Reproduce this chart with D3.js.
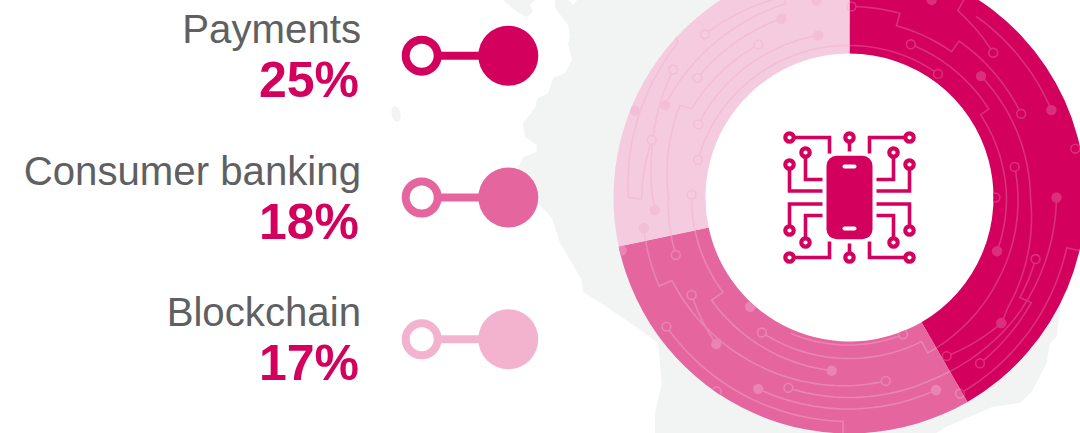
<!DOCTYPE html>
<html>
<head>
<meta charset="utf-8">
<title>Fintech investment share</title>
<script src="https://cdn.jsdelivr.net/npm/d3@7/dist/d3.min.js"></script>
<style>
  html, body { margin: 0; padding: 0; background: #fff; }
  svg { display: block; overflow: hidden; }
  text { font-family: "Liberation Sans", Arial, sans-serif; }
</style>
</head>
<body>
<script>
// Chart content
const categories = ["Payments", "Consumer banking", "Blockchain"];
const shares = [25, 18, 17];
const legendColors = ["#d3005e", "#e5669e", "#f3b3cf"];
const sliceColors = ["#d3005e", "#e5669e", "#f5cbdf"];
const traceColors = ["#db2f7c", "#ea84b2", "#f3bed7"];

// Circuit decoration on the ring: [clockwise degrees from top, radius] per vertex,
// with the terminal drawn at each end ("o" open pad, "d" solid pad, "" none).
const ringTraces = [
  { s: "o", e: "o", p: [[0.6, 191], [15.3, 191], [15.3, 178], [35, 178], [35, 191], [64, 191]] },
  { s: "o", e: "", p: [[44.8, 204], [30.1, 216], [30, 238]] },
  { s: "", e: "d", p: [[35, 221], [66.6, 220]] },
  { s: "o", e: "d", p: [[21.8, 165], [57.6, 165], [57.7, 155], [90, 157], [110, 157]] },
  { s: "o", e: "o", p: [[284, 156], [330, 153], [360, 152], [395.6, 152]] },
  { s: "d", e: "d", p: [[47.3, 179], [90, 181], [125, 193], [129.6, 197]] },
  { s: "d", e: "o", p: [[129.6, 197], [148.5, 186]] },
  { s: "o", e: "o", p: [[79.5, 168], [120, 170], [153.3, 174], [153.4, 161], [213, 161]] },
  { s: "o", e: "o", p: [[108.3, 196], [120.4, 197.6], [120, 210], [141.8, 211]] },
  { s: "d", e: "o", p: [[90, 207], [125, 205], [155, 200], [197.8, 200]] },
  { s: "", e: "o", p: [[103, 238], [103, 223], [150.6, 225]] },
  { s: "d", e: "d", p: [[155.8, 211], [205.5, 212]] },
  { s: "o", e: "d", p: [[168.8, 187], [208, 191], [245, 196], [245, 210], [261.6, 208]] },
  { s: "d", e: "o", p: [[185.9, 174], [233.3, 172], [233.2, 158], [271, 158]] },
  { s: "o", e: "", p: [[158.6, 147], [203.4, 148]] },
  { s: "o", e: "d", p: [[238.3, 185.5], [222.3, 198]] },
  { s: "o", e: "", p: [[234.8, 224], [181.6, 224], [181.6, 238]] },
  { s: "o", e: "o", p: [[251.7, 183], [270, 181], [298.6, 193], [299.4, 181], [329.2, 178]] },
  { s: "d", e: "o", p: [[266.3, 195], [285, 204], [306, 217.8]] },
  { s: "o", e: "", p: [[286.2, 206], [269.6, 208], [270, 221], [312, 231], [313, 238]] },
  { s: "o", e: "d", p: [[295.8, 168], [349, 165]] },
  { s: "o", e: "d", p: [[308.2, 193.5], [339.2, 191.4]] },
  { s: "d", e: "", p: [[296.6, 206.3], [341.8, 204], [342, 238]] },
  { s: "o", e: "", p: [[318.5, 218], [340, 212]] }
];
const ringDots = [[292, 231.6], [256.9, 234], [222.3, 147.7], [22.6, 214], [350.5, 200]];
const ringPads = [[90, 146], [77.8, 231], [214.4, 235]];

// Chip-style icon: one quadrant of wiring, mirrored into the other three
const iconWires = [
  [[-60, -60], [-20, -60], [-20, -44]],
  [[-44, -45], [-44, -18], [-27, -18]],
  [[-60, -33], [-60, -6.5], [-27, -6.5]]
];
const iconStem = [[0, -60], [0, -46]];

// Pale map silhouette behind the ring
const mapMain = [
  [555, -2], [555, 8], [568, 25], [570, 37], [568, 43], [572, 60], [565, 73], [553, 78], [548, 93],
  [537, 99], [535, 108], [523, 123], [525, 137], [536.7, 145], [536.7, 152], [523, 157], [518, 168],
  [538, 203], [551.7, 218], [560, 243], [581.7, 280], [583, 292], [606.7, 307], [643, 331.7],
  [658, 343], [661.7, 383], [655, 413], [655, 435], [933, 435], [946.7, 426.7], [966.7, 418],
  [993, 406.7], [1020, 403], [1031.7, 391.7], [1046.7, 363], [1050, 343], [1056.7, 336.7],
  [1060, 310], [1000, 100], [800, -2]
];
const mapTop = [[500, -2], [517, 12], [527, 17], [533, 12], [530, 5], [537, -2]];
const mapNotch = [[567, -2], [573, 5], [579, -2]];

const width = 1080, height = 433;
const svg = d3.select("body").append("svg").attr("width", width).attr("height", height);

// Background land shapes
const outline = d3.line().curve(d3.curveLinearClosed);
svg.append("path").attr("d", outline(mapMain)).attr("fill", "#f2f4f4");
svg.append("path").attr("d", outline(mapTop)).attr("fill", "#f2f4f4");
svg.append("path").attr("d", outline(mapNotch)).attr("fill", "#fff");
svg.append("ellipse").attr("cx", 396).attr("cy", 114).attr("rx", 4.5).attr("ry", 8)
  .attr("transform", "rotate(-12 396 114)").attr("fill", "#f2f4f4");

// Legend rows
const rowY = d3.scalePoint().domain(categories).range([55.7, 339.3]);
const colorOf = d3.scaleOrdinal().domain(categories).range(legendColors);
const shareOf = d3.scaleOrdinal().domain(categories).range(shares);

const rows = svg.selectAll("g.row").data(categories).join("g")
  .attr("class", "row")
  .attr("transform", d => `translate(0,${rowY(d)})`);

rows.append("text")
  .attr("x", 361).attr("y", -13)
  .attr("text-anchor", "end")
  .attr("font-size", 40.2)
  .attr("fill", "#5f6062")
  .text(d => d);

rows.append("text")
  .attr("x", 359).attr("y", 41)
  .attr("text-anchor", "end")
  .attr("font-size", 50)
  .attr("font-weight", 700)
  .attr("fill", "#d3005e")
  .text(d => `${shareOf(d)}%`);

rows.append("line")
  .attr("x1", 436).attr("x2", 490)
  .attr("stroke", colorOf).attr("stroke-width", 8);
rows.append("circle")
  .attr("cx", 421.7).attr("r", 16)
  .attr("fill", "#fff").attr("stroke", colorOf).attr("stroke-width", 8);
rows.append("circle")
  .attr("cx", 508.3).attr("r", 30)
  .attr("fill", colorOf);

// Ring
const cx = 849.5, cy = 197.5, innerR = 144, outerR = 236;
const ring = svg.append("g").attr("transform", `translate(${cx},${cy})`);
const pie = d3.pie().sort(null).startAngle(0).endAngle(2 * Math.PI);
const arc = d3.arc().innerRadius(innerR).outerRadius(outerR);
const slices = pie(shares);

// White centre, so the land shape does not show through the hole
ring.append("circle").attr("r", innerR + 0.5).attr("fill", "#fff");

const rad = a => a * Math.PI / 180;
const polar = ([a, r]) => [r * Math.sin(rad(a)), -r * Math.cos(rad(a))];

// Sweeps each trace segment along its circle instead of cutting a chord across it
function traceVertices(points) {
  const out = [];
  points.forEach((pt, i) => {
    if (i === 0) { out.push([rad(pt[0]), pt[1]]); return; }
    const prev = points[i - 1];
    const steps = Math.max(1, Math.ceil(Math.abs(pt[0] - prev[0]) / 2));
    d3.range(1, steps + 1).forEach(k => {
      const t = k / steps;
      out.push([rad(prev[0] + (pt[0] - prev[0]) * t), prev[1] + (pt[1] - prev[1]) * t]);
    });
  });
  return out;
}
const tracePath = d3.lineRadial().angle(d => d[0]).radius(d => d[1]);

const defs = svg.append("defs");
slices.forEach((slice, i) => {
  const id = `slice-clip-${i}`;
  defs.append("clipPath").attr("id", id).append("path").attr("d", arc(slice));

  const g = ring.append("g");
  g.append("path").attr("d", arc(slice)).attr("fill", sliceColors[i]);

  const layer = g.append("g").attr("clip-path", `url(#${id})`);
  layer.selectAll("path.trace").data(ringTraces).join("path")
    .attr("class", "trace")
    .attr("d", d => tracePath(traceVertices(d.p)))
    .attr("fill", "none")
    .attr("stroke", traceColors[i])
    .attr("stroke-width", 1.6);

  const terminals = ringTraces.flatMap(t => [
    { type: t.s, at: t.p[0] },
    { type: t.e, at: t.p[t.p.length - 1] }
  ]).filter(t => t.type)
    .concat(ringDots.map(at => ({ type: "d", at })))
    .concat(ringPads.map(at => ({ type: "o", at })));

  layer.selectAll("circle.pad").data(terminals).join("circle")
    .attr("class", "pad")
    .attr("cx", d => polar(d.at)[0])
    .attr("cy", d => polar(d.at)[1])
    .attr("r", d => d.type === "d" ? 5.2 : 4.4)
    .attr("fill", d => d.type === "d" ? traceColors[i] : sliceColors[i])
    .attr("stroke", d => d.type === "d" ? "none" : traceColors[i])
    .attr("stroke-width", 1.6);
});

// Phone icon in the centre of the ring
const iconColor = "#d3005e";
const icon = svg.append("g").attr("transform", `translate(${cx},${cy})`);
const wireLine = d3.line();
const mirrors = [[1, 1], [-1, 1], [1, -1], [-1, -1]];

function drawWire(points) {
  icon.append("path").attr("d", wireLine(points))
    .attr("fill", "none").attr("stroke", iconColor).attr("stroke-width", 3.6);
  icon.append("circle").attr("cx", points[0][0]).attr("cy", points[0][1]).attr("r", 4.2)
    .attr("fill", "#fff").attr("stroke", iconColor).attr("stroke-width", 4.2);
}

mirrors.forEach(([sx, sy]) => {
  iconWires.forEach(w => drawWire(w.map(([x, y]) => [x * sx, y * sy])));
});
[1, -1].forEach(sy => drawWire(iconStem.map(([x, y]) => [x, y * sy])));

icon.append("rect").attr("x", -23).attr("y", -41.8).attr("width", 46).attr("height", 83.5)
  .attr("rx", 10).attr("fill", iconColor);
[1, -1].forEach(sy => {
  icon.append("rect").attr("x", -7).attr("y", sy * 31 - 2).attr("width", 14).attr("height", 4)
    .attr("rx", 2).attr("fill", "#fff");
});
</script>
</body>
</html>
